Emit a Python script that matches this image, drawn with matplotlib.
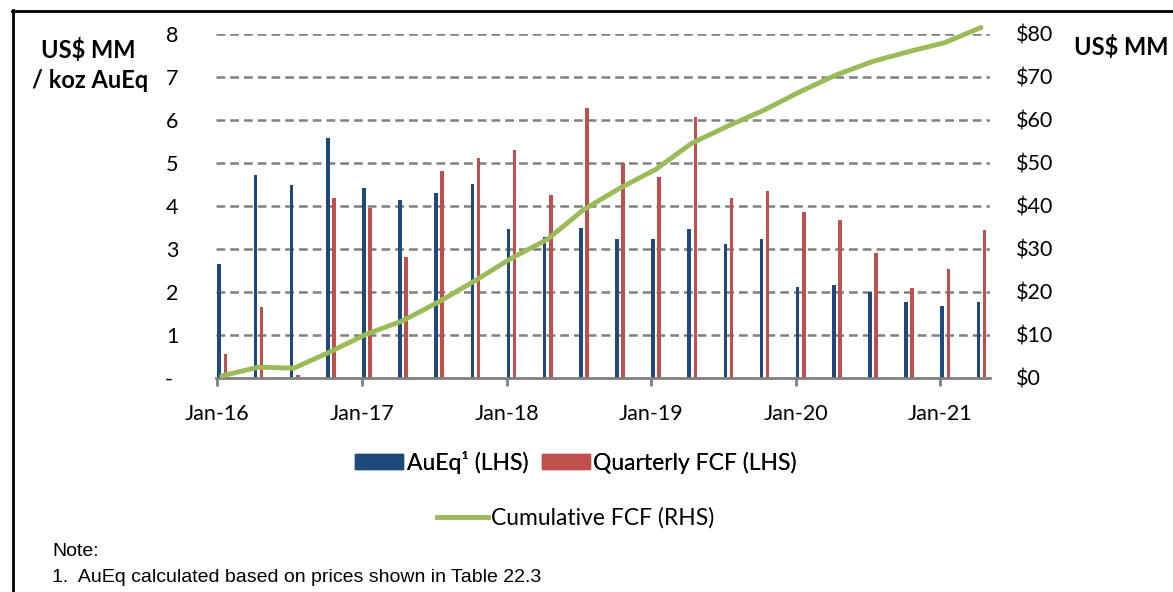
import numpy as np
import matplotlib
matplotlib.use("Agg")
import matplotlib.pyplot as plt
from matplotlib.patches import Patch
from matplotlib.lines import Line2D

plt.rcParams['font.family'] = ['Lato', 'DejaVu Sans']

# quarterly data, Q1 2016 .. Q2 2021
quarters = ['Q1-16', 'Q2-16', 'Q3-16', 'Q4-16', 'Q1-17', 'Q2-17', 'Q3-17', 'Q4-17',
            'Q1-18', 'Q2-18', 'Q3-18', 'Q4-18', 'Q1-19', 'Q2-19', 'Q3-19', 'Q4-19',
            'Q1-20', 'Q2-20', 'Q3-20', 'Q4-20', 'Q1-21', 'Q2-21']
aueq = [2.65, 4.72, 4.49, 5.57, 4.43, 4.13, 4.30, 4.52,
        3.47, 3.27, 3.50, 3.24, 3.24, 3.47, 3.11, 3.24,
        2.12, 2.16, 2.00, 1.76, 1.67, 1.76]
quarterly_fcf = [0.56, 1.64, 0.06, 4.19, 3.96, 2.82, 4.81, 5.12,
                 5.30, 4.26, 6.29, 5.01, 4.68, 6.07, 4.19, 4.36,
                 3.86, 3.67, 2.91, 2.09, 2.53, 3.44]
cumulative_fcf = [0.5, 2.5, 2.3, 6.1, 10.2, 13.3, 17.7, 22.6,
                  27.8, 32.2, 39.1, 44.1, 48.5, 54.6, 58.6, 62.3,
                  66.6, 70.5, 73.6, 75.9, 78.0, 81.5]
year_labels = ['Jan-16', 'Jan-17', 'Jan-18', 'Jan-19', 'Jan-20', 'Jan-21']
left_ticks = ['- ', '1', '2', '3', '4', '5', '6', '7', '8']
right_ticks = ['$0', '$10', '$20', '$30', '$40', '$50', '$60', '$70', '$80']

blue = '#1F497D'
red = '#C0504D'
green = '#9BBB59'
grid_gray = '#808080'

fig = plt.figure(figsize=(11.73, 5.92), dpi=100)
ax = fig.add_axes([216/1173, 1-378/592, (990-216)/1173, (378-34)/592])

x = np.arange(len(quarters))
ax.bar(x + 0.05, aueq, width=0.1, color=blue, zorder=3)
ax.bar(x + 0.22, quarterly_fcf, width=0.1, color=red, zorder=3)

ax2 = ax.twinx()
ax2.plot(x + 0.12, cumulative_fcf, color=green, lw=3.5, clip_on=False,
         solid_capstyle='round', zorder=4)
ax2.set_ylim(0, 80)
ax.set_ylim(0, 8)
ax.set_xlim(-0.04, 21.37)

for a in (ax, ax2):
    for s in a.spines.values():
        s.set_visible(False)
ax.spines['bottom'].set_visible(True)
ax.spines['bottom'].set_color(grid_gray)
ax.spines['bottom'].set_linewidth(2)
ax.spines['bottom'].set_zorder(5)

ax.set_yticks(range(9))
ax.set_yticklabels(left_ticks)
ax.tick_params(axis='y', length=0, pad=27, labelsize=15.5)
ax2.set_yticks(range(0, 90, 10))
ax2.set_yticklabels(right_ticks)
ax2.tick_params(axis='y', length=0, pad=19, labelsize=15.5)

ax.set_xticks(range(0, 24, 4))
ax.set_xticklabels(year_labels)
ax.tick_params(axis='x', length=6, width=2, color=grid_gray, pad=13, labelsize=15.5)

for v in range(1, 9):
    ax.axhline(v, color=grid_gray, lw=1.8, ls=(0, (3.5, 2)), zorder=1)

fig.text(88/1173, 1-50/592, 'US$ MM', fontsize=17, fontweight='bold', ha='center', va='center')
fig.text(90/1173, 1-81/592, '/ koz AuEq', fontsize=17, fontweight='bold', ha='center', va='center')
fig.text(1121/1173, 1-47/592, 'US$ MM', fontsize=17, fontweight='bold', ha='center', va='center')

leg1 = fig.legend(handles=[Patch(color=blue), Patch(color=red)],
                  labels=['AuEq¹ (LHS)', 'Quarterly FCF (LHS)'],
                  ncol=2, loc='center', bbox_to_anchor=(576/1173, 1-462/592),
                  frameon=False, fontsize=16.5, handlelength=2.1, handleheight=0.6,
                  handletextpad=0.15, columnspacing=0.6)
leg2 = fig.legend(handles=[Line2D([], [], color=green, lw=3.5)],
                  labels=['Cumulative FCF (RHS)'],
                  loc='center', bbox_to_anchor=(576/1173, 1-518/592),
                  frameon=False, fontsize=16.5, handlelength=2.2, handletextpad=0.15)
fig.add_artist(leg1)

fig.text(52/1173, 1-551/592, 'Note:', fontsize=14, family='Liberation Sans', va='center')
fig.text(52/1173, 1-577/592, '1.  AuEq calculated based on prices shown in Table 22.3',
         fontsize=14, family='Liberation Sans', va='center')

# frame lines (top and left)
fig.add_artist(Line2D([12/1173, 1], [1-10.5/592, 1-10.5/592], color='black', lw=2,
                      transform=fig.transFigure))
fig.add_artist(Line2D([12.5/1173, 12.5/1173], [0, 1-10/592], color='black', lw=2,
                      transform=fig.transFigure))

fig.savefig('out.png', dpi=100)
